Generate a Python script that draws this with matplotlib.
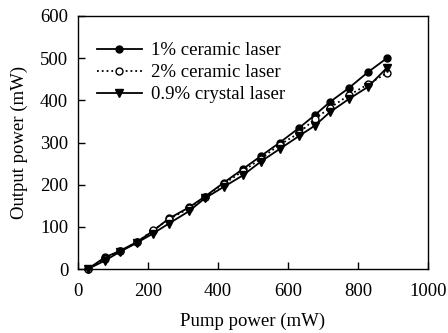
import matplotlib
matplotlib.use("Agg")
import matplotlib.pyplot as plt

pump = [28, 77, 120, 168, 214, 260, 317, 363, 417, 471, 523, 577, 631, 677, 720, 774, 829, 883]
ceramic1 = [0, 28, 43, 64, 90, 120, 146, 172, 205, 237, 268, 300, 334, 365, 396, 429, 467, 500]
ceramic2 = [0, 25, 43, 63, 92, 118, 144, 171, 202, 232, 262, 295, 322, 356, 382, 412, 438, 465]
crystal = [0, 20, 41, 62, 84, 108, 137, 168, 195, 222, 255, 285, 315, 340, 372, 403, 432, 477]
labels = ["1% ceramic laser", "2% ceramic laser", "0.9% crystal laser"]

plt.rcParams['font.family'] = ['Liberation Serif', 'DejaVu Serif']
plt.rcParams['font.size'] = 13.5

fig = plt.figure(figsize=(4.48, 3.33), dpi=100)
ax = fig.add_axes([0.174, 0.192, 0.781, 0.760])

ax.plot(pump, ceramic1, '-', color='black', marker='o', ms=5, lw=1.3,
        mfc='black', label=labels[0], clip_on=False)
ax.plot(pump, ceramic2, ':', color='black', marker='o', ms=5, lw=1.3,
        mfc='white', label=labels[1], clip_on=False)
ax.plot(pump, crystal, '-', color='black', marker='v', ms=5.5, lw=1.3,
        mfc='black', label=labels[2], clip_on=False)

ax.set_xlim(0, 1000)
ax.set_ylim(0, 600)
ax.set_xticks([0, 200, 400, 600, 800, 1000])
ax.set_yticks([0, 100, 200, 300, 400, 500, 600])
ax.tick_params(direction='in', length=5, width=1)
ax.tick_params(axis='x', pad=10)
ax.tick_params(axis='y', pad=7)
ax.set_xlabel("Pump power (mW)", labelpad=9.5)
ax.set_ylabel("Output power (mW)", labelpad=9)
for s in ax.spines.values():
    s.set_linewidth(1)

ax.legend(loc='upper left', frameon=False, handlelength=2.4, borderaxespad=0.6,
          labelspacing=0.25, handletextpad=0.5, bbox_to_anchor=(0.0, 0.97))

fig.savefig("out.png", dpi=100)
